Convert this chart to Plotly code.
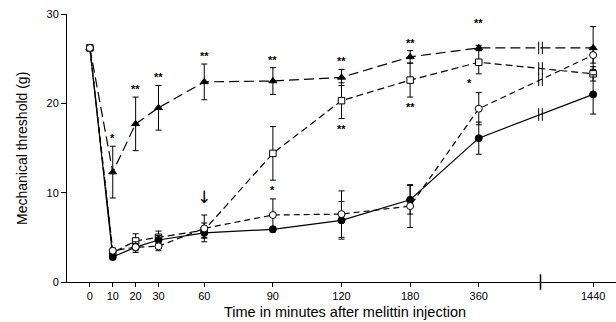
import plotly.graph_objects as go

# ---- data ----
time_labels = ["0", "10", "20", "30", "60", "90", "120", "180", "360", "1440"]
# axis slot of each time label (uneven, broken axis as drawn in the figure)
time_slots = [0, 1, 2, 3, 5, 8, 11, 14, 17, 22]
break_slot = 19.7

filled_circle = [26.2, 2.8, 3.9, 4.7, 5.5, 5.9, 6.9, 9.2, 16.1, 21.0]
filled_circle_err = [0, 0.3, 0.4, 0.5, 0.6, 0.3, 2.1, 1.6, 1.8, 2.2]

open_circle = [26.2, 3.5, 3.9, 4.0, 6.0, 7.5, 7.6, 8.5, 19.4, 25.4]
open_circle_err = [0, 0.3, 0.6, 0.5, 1.5, 1.8, 2.6, 2.4, 1.8, 0.9]

open_square = [26.2, 3.3, 4.6, 5.0, 5.8, 14.4, 20.3, 22.6, 24.6, 23.3]
open_square_err = [0, 0.3, 0.8, 0.7, 0.8, 3.0, 2.0, 1.9, 1.3, 0.8]

filled_triangle = [26.2, 12.3, 17.7, 19.5, 22.4, 22.5, 22.9, 25.2, 26.2, 26.2]
filled_triangle_err = [0, 2.9, 3.0, 2.5, 2.0, 1.5, 0.9, 0.7, 0.3, 2.4]

# significance marks
stars_triangle = {"10": "*", "20": "**", "30": "**", "60": "**", "90": "**",
                  "120": "**", "180": "**", "360": "**"}
stars_square_below = {"90": "*", "120": "**", "180": "**"}

x_title = "Time in minutes after melittin injection"
y_title = "Mechanical threshold (g)"

FONT = "Liberation Sans, Arial, Helvetica, sans-serif"
pos = dict(zip(time_labels, time_slots))
xs = [pos[t] for t in time_labels]

fig = go.Figure()

series = [
    (filled_triangle, filled_triangle_err, "triangle-up", "black", "10px,5px"),
    (open_square, open_square_err, "square", "white", "7px,4px"),
    (filled_circle, filled_circle_err, "circle", "black", "solid"),
    (open_circle, open_circle_err, "circle", "white", "6px,4px"),
]
for vals, errs, sym, fill, dash in series:
    fig.add_trace(go.Scatter(
        x=xs, y=vals, mode="lines+markers",
        line=dict(color="black", width=1.2, dash=dash),
        marker=dict(symbol=sym, size=7 if sym != "square" else 6.5, color=fill,
                    line=dict(color="black", width=1)),
        error_y=dict(type="data", array=errs, visible=True, color="black",
                     thickness=1, width=3),
        showlegend=False, cliponaxis=False,
    ))

# axis-break marks on each line and on the x axis
i3, i4 = time_labels.index("360"), time_labels.index("1440")
frac = (break_slot - pos["360"]) / (pos["1440"] - pos["360"])
for vals in (filled_triangle, open_square, open_circle, filled_circle):
    yb = vals[i3] + frac * (vals[i4] - vals[i3])
    fig.add_trace(go.Scatter(
        x=[break_slot - 0.08, break_slot + 0.08], y=[yb, yb], mode="markers",
        marker=dict(symbol="line-ns", size=9, line=dict(color="black", width=1)),
        showlegend=False, hoverinfo="skip", cliponaxis=False))
fig.add_trace(go.Scatter(
    x=[break_slot], y=[0], mode="markers",
    marker=dict(symbol="line-ns", size=11, line=dict(color="black", width=1.5)),
    showlegend=False, hoverinfo="skip", cliponaxis=False))

STAR = dict(size=11, color="black", family=FONT)
ann = []
for t, s in stars_triangle.items():
    i = time_labels.index(t)
    ann.append(dict(x=pos[t], y=filled_triangle[i] + filled_triangle_err[i],
                    text="<b>%s</b>" % s, showarrow=False, yanchor="bottom",
                    yshift=0 if t != "360" else 14, font=STAR))
for t, s in stars_square_below.items():
    i = time_labels.index(t)
    ann.append(dict(x=pos[t], y=open_square[i] - open_square_err[i],
                    text="<b>%s</b>" % s, showarrow=False, yanchor="top", yshift=-2,
                    font=STAR))
i = time_labels.index("360")
ann.append(dict(x=pos["360"], y=open_square[i] - open_square_err[i], text="<b>*</b>",
                showarrow=False, yanchor="top", xshift=-9, yshift=-1, font=STAR))
# arrow marking 60 min
i = time_labels.index("60")
ann.append(dict(x=pos["60"], y=open_circle[i] + open_circle_err[i], text="↓",
                showarrow=False, yanchor="bottom", yshift=6,
                font=dict(size=17, color="black", family="DejaVu Sans")))
# axis titles
ann.append(dict(xref="paper", yref="paper", x=0.506, y=-0.112, text=x_title,
                showarrow=False, xanchor="center", yanchor="middle",
                font=dict(size=14.5, color="black", family=FONT)))
ann.append(dict(xref="paper", yref="paper", x=-0.082, y=0.5, text=y_title,
                textangle=-90, showarrow=False, xanchor="center", yanchor="middle",
                font=dict(size=14, color="black", family=FONT)))

fig.update_layout(
    width=616, height=322,
    margin=dict(l=67, r=0, t=14, b=40),
    paper_bgcolor="white", plot_bgcolor="white",
    font=dict(family=FONT, color="black", size=11),
    annotations=ann,
    xaxis=dict(range=[-1, 23], tickvals=xs, ticktext=time_labels,
               showline=True, linecolor="black", linewidth=1,
               ticks="outside", ticklen=4, tickcolor="black",
               showgrid=False, zeroline=False, tickfont=dict(size=11)),
    yaxis=dict(range=[0, 30], tickvals=[0, 10, 20, 30],
               showline=True, linecolor="black", linewidth=1,
               ticks="outside", ticklen=5, tickcolor="black",
               showgrid=False, zeroline=False, tickfont=dict(size=11)),
)

fig.write_html("out.html")
